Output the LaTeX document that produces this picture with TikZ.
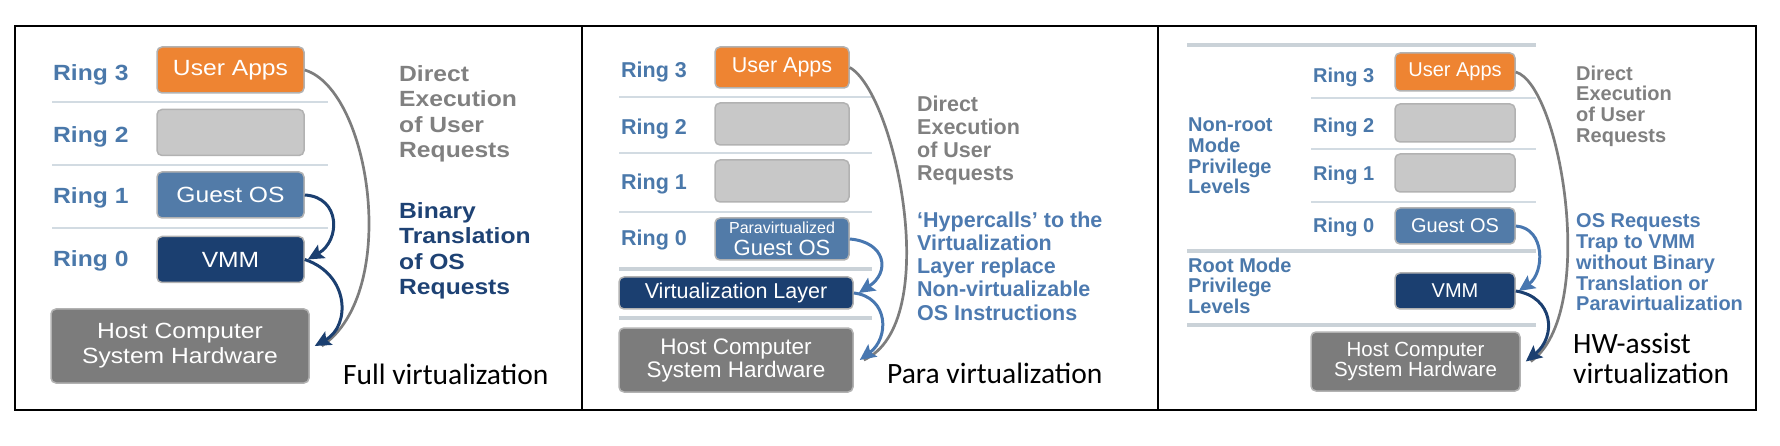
\documentclass[tikz,border=0pt]{standalone}
\usepackage{fontspec}
\usetikzlibrary{arrows.meta}
\newfontfamily\diafont{Liberation Sans}
\newfontfamily\diawide[FakeStretch=1.12]{Liberation Sans}
\newfontfamily\capfont{Carlito}
\newcommand{\fullfont}{\diawide\fontsize{22}{25.5}\selectfont}
\newcommand{\parafont}{\diafont\fontsize{21.5}{23.2}\selectfont}
\newcommand{\hwfont}{\diafont\fontsize{20}{20.8}\selectfont}
\definecolor{ringblue}{RGB}{74,120,170}
\definecolor{userorange}{RGB}{238,132,50}
\definecolor{emptygray}{RGB}{200,200,200}
\definecolor{guestblue}{RGB}{82,123,168}
\definecolor{vmmnavy}{RGB}{27,63,112}
\definecolor{hostgray}{RGB}{124,124,124}
\definecolor{boxedge}{RGB}{178,178,178}
\definecolor{notegray}{RGB}{128,128,128}
\definecolor{notenavy}{RGB}{30,66,116}
\definecolor{noteblue}{RGB}{77,122,176}
\definecolor{sepline}{RGB}{210,219,226}
\definecolor{arcgray}{RGB}{125,125,125}
\definecolor{arcblue}{RGB}{72,119,176}
\tikzset{frame/.style = {draw=black, line width=2.5pt}}
\tikzset{septhin/.style = {draw=sepline, line width=1.5pt}}
\tikzset{septhick/.style = {draw=sepline!90!gray, line width=3.5pt}}
\tikzset{layer/.style = {draw=boxedge, line width=1.5pt, rounded corners=5pt,
                         inner sep=0pt, text=white, align=center}}
\tikzset{ringlbl/.style = {anchor=base west, inner sep=0pt, text=ringblue}}
\tikzset{note/.style = {anchor=north west, inner sep=0pt, align=left}}
\tikzset{caption/.style = {anchor=base west, inner sep=0pt, align=left,
                           font=\capfont\fontsize{29.5}{30}\selectfont}}
\tikzset{tip/.style = {-{Stealth[length=16pt, width=15pt, inset=3pt]}, line width=3pt}}
\tikzset{arcline/.style = {draw=arcgray, line width=2.7pt}}

\begin{document}
\begin{tikzpicture}[x=1pt, y=-1pt]
  \useasboundingbox (0,0) rectangle (1780,446);
  \draw [frame] (15,26) rectangle (1756,410);
  \draw [frame] (582,26) -- (582,410);
  \draw [frame] (1158,26) -- (1158,410);

  % full virtualization
  \draw [septhin] (52,102) -- (328,102);
  \draw [septhin] (52,165) -- (328,165);
  \draw [septhin] (52,228) -- (328,228);
  \begin{scope}[every node/.append style={font=\fullfont}]
    \node [ringlbl, font=\fullfont\bfseries] (ra3) at (53,80.5) {Ring 3};
    \node [ringlbl, font=\fullfont\bfseries] (ra2) at (53,142.5) {Ring 2};
    \node [ringlbl, font=\fullfont\bfseries] (ra1) at (53,203.5) {Ring 1};
    \node [ringlbl, font=\fullfont\bfseries] (ra0) at (53,267) {Ring 0};
    \node [layer, fill=userorange, minimum width=147pt, minimum height=46pt] (ua1) at (230.5,70) {User Apps};
    \node [layer, fill=emptygray, minimum width=147pt, minimum height=46pt] (rb1) at (230.5,132.5) {};
    \node [layer, fill=guestblue, minimum width=147pt, minimum height=46pt] (gos1) at (230.5,195) {Guest OS};
    \node [layer, fill=vmmnavy, minimum width=147pt, minimum height=46pt] (vmm1) at (230.5,259.5) {VMM};
    \node [layer, fill=hostgray, minimum width=258pt, minimum height=74pt,
           font=\diawide\fontsize{22}{25}\selectfont] (host1) at (180,346) {Host Computer\\System Hardware};
    \node [note, text=notegray, font=\fullfont\bfseries] (de1) at (399,65) {Direct\\Execution\\of User\\Requests};
    \node [note, text=notenavy, font=\fullfont\bfseries] (bt1) at (399,202) {Binary\\Translation\\of OS\\Requests};
  \end{scope}
  \node [caption] (cap1) at (343,384) {Full virtualization};
  \draw [arcline] (ua1.east) .. controls +(66,20) and +(79,-53) .. ([xshift=12pt]host1.east);
  \draw [tip, draw=vmmnavy] (gos1.east) .. controls +(36,2) and +(33,-19) .. ([xshift=3pt]vmm1.east);
  \draw [tip, draw=vmmnavy] (vmm1.east) .. controls +(45,15) and +(36,-20) .. ([xshift=5pt]host1.east);

  % para virtualization
  \draw [septhin] (619,97) -- (872,97);
  \draw [septhin] (619,153) -- (872,153);
  \draw [septhin] (619,212) -- (872,212);
  \draw [septhick] (619,269) -- (872,269);
  \draw [septhick] (619,318) -- (872,318);
  \begin{scope}[every node/.append style={font=\parafont}]
    \node [ringlbl, font=\parafont\bfseries] (rp3) at (621,78) {Ring 3};
    \node [ringlbl, font=\parafont\bfseries] (rp2) at (621,135) {Ring 2};
    \node [ringlbl, font=\parafont\bfseries] (rp1) at (621,190) {Ring 1};
    \node [ringlbl, font=\parafont\bfseries] (rp0) at (621,246) {Ring 0};
    \node [layer, fill=userorange, minimum width=134pt, minimum height=41pt] (ua2) at (782,67.5) {User Apps};
    \node [layer, fill=emptygray, minimum width=134pt, minimum height=42pt] (rb2) at (782,124) {};
    \node [layer, fill=emptygray, minimum width=134pt, minimum height=42pt] (rc2) at (782,181) {};
    \node [layer, fill=guestblue, minimum width=134pt, minimum height=42pt,
           font=\diafont\fontsize{22}{22}\selectfont] (gos2) at (782,239)
          {{\fontsize{16}{16}\selectfont Paravirtualized}\\Guest OS};
    \node [layer, fill=vmmnavy, minimum width=234pt, minimum height=32pt] (vl2) at (736,293) {Virtualization Layer};
    \node [layer, fill=hostgray, minimum width=234pt, minimum height=64pt,
           font=\diafont\fontsize{22.5}{23}\selectfont] (host2) at (736,360) {Host Computer\\System Hardware};
    \node [note, text=notegray, font=\parafont\bfseries] (de2) at (917,95.5) {Direct\\Execution\\of User\\Requests};
    \node [note, text=noteblue, font=\parafont\bfseries] (hc2) at (917,211.5) {‘Hypercalls’ to the\\Virtualization\\Layer replace\\Non-virtualizable\\OS Instructions};
  \end{scope}
  \node [caption] (cap2) at (887,383) {Para virtualization};
  \draw [arcline] (ua2.east) .. controls +(46,26) and +(80,-36) .. ([xshift=10pt]host2.east);
  \draw [tip, draw=arcblue] (gos2.east) .. controls +(36,3) and +(32,-21) .. ([xshift=5pt]vl2.east);
  \draw [tip, draw=arcblue] (vl2.east) .. controls +(35,4) and +(30,-22) .. ([xshift=6pt]host2.east);

  % HW-assist virtualization
  \draw [septhick] (1187,45) -- (1536,45);
  \draw [septhin] (1311,98) -- (1536,98);
  \draw [septhin] (1311,149) -- (1536,149);
  \draw [septhin] (1311,202) -- (1536,202);
  \draw [septhick] (1187,251) -- (1536,251);
  \draw [septhick] (1187,325) -- (1536,325);
  \begin{scope}[every node/.append style={font=\hwfont}]
    \node [ringlbl, font=\hwfont\bfseries] (rh3) at (1313,82.5) {Ring 3};
    \node [ringlbl, font=\hwfont\bfseries] (rh2) at (1313,132.5) {Ring 2};
    \node [ringlbl, font=\hwfont\bfseries] (rh1) at (1313,180.5) {Ring 1};
    \node [ringlbl, font=\hwfont\bfseries] (rh0) at (1313,232.5) {Ring 0};
    \node [layer, fill=userorange, minimum width=120pt, minimum height=38pt] (ua3) at (1455,72) {User Apps};
    \node [layer, fill=emptygray, minimum width=120pt, minimum height=38pt] (rb3) at (1455,123) {};
    \node [layer, fill=emptygray, minimum width=120pt, minimum height=38pt] (rc3) at (1455,173) {};
    \node [layer, fill=guestblue, minimum width=120pt, minimum height=36pt] (gos3) at (1455,226) {Guest OS};
    \node [layer, fill=vmmnavy, minimum width=120pt, minimum height=36pt] (vmm3) at (1455,291) {VMM};
    \node [layer, fill=hostgray, minimum width=209pt, minimum height=59pt,
           font=\diafont\fontsize{20.5}{20.5}\selectfont] (host3) at (1415.5,361.5) {Host Computer\\System Hardware};
    \node [note, text=ringblue, font=\hwfont\bfseries] (nr3) at (1188,117.5) {Non-root\\Mode\\Privilege\\Levels};
    \node [note, text=ringblue, font=\hwfont\bfseries] (rm3) at (1188,257.5) {Root Mode\\Privilege\\Levels};
    \node [note, text=notegray, font=\hwfont\bfseries] (de3) at (1576,65.5) {Direct\\Execution\\of User\\Requests};
    \node [note, text=noteblue, font=\hwfont\bfseries] (tr3) at (1576,213.5) {OS Requests\\Trap to VMM\\without Binary\\Translation or\\Paravirtualization};
  \end{scope}
  \node [caption] (cap3) at (1573,383) {HW-assist\\virtualization};
  \draw [arcline] (ua3.east) .. controls +(45,13) and +(68,-48) .. ([xshift=10pt]host3.east);
  \draw [tip, draw=arcblue] (gos3.east) .. controls +(30,2) and +(26,-18) .. ([xshift=3pt]vmm3.east);
  \draw [tip, draw=vmmnavy] (vmm3.east) .. controls +(38,6) and +(31,-25) .. ([xshift=5pt]host3.east);
\end{tikzpicture}
\end{document}
